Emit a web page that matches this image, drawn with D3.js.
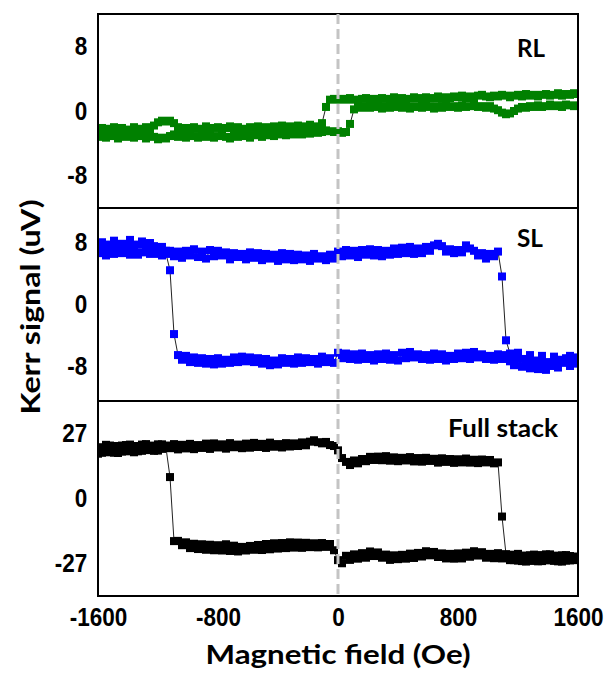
<!DOCTYPE html>
<html>
<head>
<meta charset="utf-8">
<script src="https://cdn.jsdelivr.net/npm/d3@7"></script>
<style>
  html, body { margin: 0; padding: 0; background: #fff; }
  svg { display: block; }
  .tick text { font-family: "Liberation Sans", Arial, sans-serif; font-weight: bold; font-size: 25px; fill: #000; }
  .title { font-family: Lato, "Open Sans", sans-serif; font-weight: bold; fill: #000; }
</style>
</head>
<body>
<svg id="chart" width="610" height="675"></svg>
<script>
// Field sweep: 121 steps from -1600 Oe to +1600 Oe
const fieldStart = -1600, fieldEnd = 1600, fieldSteps = 120;
const fieldOe = d3.range(fieldSteps + 1).map(i => fieldStart + i * (fieldEnd - fieldStart) / fieldSteps);

const xTicks = [-1600, -800, 0, 800, 1600];

// Panel names and y ticks
const panelNames = ["RL", "SL", "Full stack"];
const panelTicks = [[8, 0, -8], [8, 0, -8], [27, 0, -27]];
const panelRanges = [[-12, 12], [-12.4, 12.4], [-40.5, 40.5]];
const panelColors = ["#008000", "#0000ff", "#000000"];

// Kerr signal (uV), indexed by field step; "up" = sweep from -1600 to +1600, "down" = sweep back
const rlUp = [
  -3.2, -2.9, -3.3, -2.8, -3.1, -3.4, -2.9, -3.2, -3.0, -3.3,
  -2.9, -3.1, -3.4, -3.0, -3.2, -3.5, -3.3, -3.4, -3.1, -2.9,
  -3.2, -3.0, -3.3, -2.9, -3.1, -3.3, -2.8, -3.2, -3.0, -3.3,
  -3.1, -2.9, -3.2, -3.4, -3.0, -3.2, -2.9, -3.1, -3.3, -3.0,
  -2.9, -3.2, -3.0, -2.8, -3.1, -2.9, -2.7, -3.0, -2.8, -2.9,
  -2.7, -2.9, -2.6, -2.8, -2.5, -2.7, -2.6, -2.4, -2.5, -2.6,
  -2.5, -2.7, -2.6, -1.6, 0.2, 0.5, 0.4, 0.6, 0.4, 0.7,
  0.5, 0.3, 0.6, 0.4, 0.5, 0.7, 0.4, 0.6, 0.3, 0.5,
  0.6, 0.4, 0.7, 0.5, 0.3, 0.6, 0.4, 0.7, 0.5, 0.6,
  0.4, 0.7, 0.5, 0.6, 0.8, 0.5, 0.6, 0.4, 0.6, 0.3,
  0.1, -0.2, -0.4, -0.3, 0.0, 0.3, 0.5, 0.4, 0.6, 0.5,
  0.7, 0.5, 0.6, 0.8, 0.6, 0.7, 0.5, 0.8, 0.7, 0.6,
  0.7
];
const rlDown = [
  -2.4, -2.1, -2.5, -2.2, -2.0, -2.4, -2.1, -2.3, -2.5, -2.0,
  -2.2, -2.4, -2.0, -2.3, -1.8, -1.4, -1.2, -1.3, -1.2, -1.5,
  -2.0, -2.3, -2.1, -2.4, -2.0, -2.2, -2.3, -1.9, -2.4, -2.1,
  -2.0, -2.3, -2.1, -1.9, -2.3, -2.0, -2.2, -2.4, -2.0, -2.1,
  -1.9, -2.2, -2.0, -2.3, -1.9, -2.1, -1.8, -2.2, -1.9, -2.0,
  -1.8, -2.0, -1.9, -1.7, -1.9, -2.0, -1.5, 0.5, 1.4, 1.5,
  1.4, 1.5, 1.4, 1.6, 1.4, 1.3, 1.5, 1.6, 1.3, 1.5,
  1.3, 1.6, 1.5, 1.4, 1.7, 1.4, 1.6, 1.4, 1.5, 1.7,
  1.6, 1.4, 1.7, 1.5, 1.6, 1.8, 1.5, 1.7, 1.6, 1.8,
  1.7, 1.9, 1.6, 1.8, 1.7, 1.9, 2.0, 1.8, 1.7, 1.9,
  1.8, 2.0, 1.9, 1.7, 1.9, 2.0, 1.8, 2.1, 1.9, 2.0,
  1.8, 2.0, 2.1, 1.9, 2.0, 2.2, 1.9, 2.1, 2.0, 2.2,
  2.1
];
const slUp = [
  7.4, 8.0, 7.2, 7.7, 8.2, 7.3, 7.8, 7.5, 8.3, 7.4,
  7.7, 8.1, 7.2, 7.9, 7.5, 7.0, 7.4, 6.9, 6.9, 6.2,
  6.8, 6.0, 6.9, 6.3, 7.1, 6.1, 6.8, 5.9, 7.0, 6.2,
  6.9, 6.3, 6.7, 5.8, 6.6, 6.1, 6.5, 5.8, 6.7, 6.0,
  6.6, 5.7, 6.5, 5.9, 6.4, 5.6, 6.6, 5.8, 6.5, 5.7,
  6.4, 5.8, 6.3, 5.6, 6.5, 5.9, 6.2, 5.7, 6.4, 5.9,
  6.8, 6.2, 7.0, 6.3, 6.9, 6.1, 7.0, 6.4, 7.1, 6.3,
  7.0, 6.2, 6.9, 6.4, 7.2, 6.5, 7.3, 6.6, 7.4, 6.5,
  7.2, 6.6, 7.4, 6.9, 7.6, 7.8, 7.5, 6.8, 7.1, 6.6,
  7.0, 6.7, 7.6, 7.2, 6.9, 6.3, 6.6, 5.9, 6.5, 6.2,
  6.8, 3.6, -4.6, -6.3, -7.2, -6.2, -7.0, -7.6, -6.5, -7.4,
  -7.8, -6.6, -7.5, -7.9, -6.7, -7.7, -7.1, -7.5, -6.6, -7.3,
  -6.8
];
const slDown = [
  6.6, 7.0, 6.3, 6.8, 6.5, 7.1, 6.6, 6.9, 6.4, 6.8,
  6.4, 6.7, 7.0, 6.5, 6.8, 6.5, 6.3, 6.5, 4.4, -3.8,
  -6.5, -7.1, -6.6, -7.4, -6.8, -7.5, -6.9, -7.6, -7.0, -7.7,
  -6.9, -7.6, -7.1, -7.5, -6.8, -7.4, -6.7, -7.3, -6.8, -7.4,
  -6.9, -7.6, -7.0, -7.8, -7.2, -7.7, -6.9, -7.5, -7.0, -7.6,
  -6.8, -7.5, -6.9, -7.4, -7.0, -7.6, -6.7, -7.4, -6.9, -7.5,
  -6.2, -6.9, -6.3, -7.0, -6.4, -7.1, -6.3, -7.0, -6.5, -7.2,
  -6.4, -7.0, -6.3, -7.1, -6.5, -7.2, -6.2, -6.9, -6.1, -6.8,
  -6.4, -7.0, -6.5, -7.1, -6.3, -7.0, -6.4, -7.2, -6.6, -7.0,
  -6.3, -6.9, -6.2, -7.0, -6.1, -6.8, -6.4, -7.0, -6.6, -7.1,
  -6.4, -7.0, -6.5, -7.3, -7.8, -6.9, -8.0, -7.0, -8.2, -7.2,
  -8.3, -7.1, -8.4, -7.4, -7.0, -8.1, -7.3, -6.9, -7.9, -7.2,
  -7.6
];
const fullUp = [
  18.6, 21.3, 19.2, 22.0, 19.0, 21.6, 19.5, 22.2, 20.0, 21.8,
  19.6, 22.4, 20.3, 21.9, 19.8, 22.5, 20.6, 22.0, 20.9, 22.6,
  20.4, 22.3, 20.8, 22.7, 20.5, 22.2, 21.0, 22.8, 20.6, 22.9,
  21.2, 22.5, 20.7, 23.0, 21.3, 22.4, 20.9, 22.8, 21.1, 23.1,
  21.4, 22.7, 21.0, 23.2, 21.5, 22.6, 21.2, 23.0, 21.6, 22.9,
  21.8, 23.3, 22.1, 23.6, 24.2, 23.4, 22.9, 23.5, 22.2, 21.8,
  20.0, 16.8, 15.2, 13.9, 15.8, 14.6, 16.4, 15.5, 17.3, 16.0,
  17.4, 15.9, 17.6, 15.7, 17.1, 15.5, 16.9, 15.8, 17.2, 15.4,
  16.8, 15.3, 16.9, 15.6, 16.5, 14.9, 16.7, 15.2, 16.4, 14.8,
  16.3, 15.0, 16.6, 14.9, 16.1, 14.7, 16.2, 15.0, 16.0, 14.6,
  15.0, -7.5, -23.2, -23.4, -25.6, -23.0, -26.0, -23.7, -25.8, -23.3,
  -26.1, -24.0, -25.5, -23.2, -25.9, -23.8, -26.2, -23.5, -25.7, -24.1,
  -25.4
];
const fullDown = [
  21.0, 19.0, 22.3, 19.4, 21.8, 18.9, 22.0, 19.6, 22.4, 19.2,
  21.7, 19.8, 22.6, 20.1, 21.9, 19.9, 22.5, 21.0, 8.9, -17.7,
  -17.6, -19.4, -18.2, -20.6, -18.8, -21.0, -19.0, -21.3, -19.2, -21.5,
  -19.4, -21.6, -19.0, -21.8, -19.6, -22.0, -20.1, -21.6, -19.7, -21.3,
  -19.3, -21.4, -18.9, -21.1, -18.6, -20.8, -18.5, -20.6, -18.2, -20.4,
  -18.3, -20.5, -18.4, -20.2, -18.6, -20.3, -18.5, -20.1, -18.9, -21.5,
  -25.6, -26.9, -23.8, -25.5, -23.2, -25.0, -22.7, -24.6, -22.0, -23.9,
  -22.4, -24.6, -23.3, -25.5, -23.6, -25.2, -23.4, -25.0, -22.9, -24.7,
  -22.6, -24.1, -21.9, -23.6, -22.2, -24.3, -22.8, -24.9, -23.0, -25.0,
  -22.8, -24.9, -22.5, -24.2, -21.9, -23.7, -22.3, -24.6, -23.0, -24.8,
  -22.7, -24.9, -23.2, -25.6, -23.4, -25.8, -23.9, -26.2, -23.6, -25.9,
  -23.5, -26.0, -23.2, -25.7, -23.8, -26.1, -23.6, -25.8, -23.9, -25.6,
  -24.3
];

const panelSeries = [[rlUp, rlDown], [slUp, slDown], [fullUp, fullDown]];

// Layout
const left = 98, right = 578;
const panelTops = [14, 208, 401];
const panelBottoms = [208, 401, 596];
const markerSize = 8;
const tickSquash = 0.9;
const plainNumber = d => String(d);

const svg = d3.select("#chart");
const x = d3.scaleLinear().domain([fieldStart, fieldEnd]).range([left, right]);

panelNames.forEach((name, p) => {
  const y = d3.scaleLinear().domain(panelRanges[p]).range([panelBottoms[p], panelTops[p]]);
  const g = svg.append("g");

  // Y axis tick labels
  const yAxis = d3.axisLeft(y).tickValues(panelTicks[p]).tickSize(0).tickPadding(12).tickFormat(plainNumber);
  g.append("g").attr("transform", `translate(${left},0)`).call(yAxis)
    .call(s => s.select(".domain").remove())
    .call(s => s.selectAll(".tick text").attr("transform", `scale(${tickSquash},1)`));

  const clipId = "clip" + p;
  svg.append("clipPath").attr("id", clipId).append("rect")
    .attr("x", left).attr("y", panelTops[p])
    .attr("width", right - left).attr("height", panelBottoms[p] - panelTops[p]);

  const plot = g.append("g").attr("clip-path", `url(#${clipId})`);
  const line = d3.line().x((d, i) => x(fieldOe[i])).y(d => y(d));

  panelSeries[p].forEach(series => {
    plot.append("path").datum(series)
      .attr("d", line)
      .attr("fill", "none")
      .attr("stroke", "#222")
      .attr("stroke-width", 1);
  });
  panelSeries[p].forEach(series => {
    plot.append("g").selectAll("rect").data(series).join("rect")
      .attr("x", (d, i) => x(fieldOe[i]) - markerSize / 2)
      .attr("y", d => y(d) - markerSize / 2)
      .attr("width", markerSize)
      .attr("height", markerSize)
      .attr("fill", panelColors[p]);
  });

  // Panel frame
  g.append("rect")
    .attr("x", left).attr("y", panelTops[p])
    .attr("width", right - left).attr("height", panelBottoms[p] - panelTops[p])
    .attr("fill", "none").attr("stroke", "#000").attr("stroke-width", 2);
});

// Panel labels
const labelRight = [545, 543, 558];
const labelBase = [57, 247, 437];
const labelWidth = [28, 26, 110];
panelNames.forEach((name, p) => {
  svg.append("text").attr("class", "title")
    .attr("x", labelRight[p] - labelWidth[p]).attr("y", labelBase[p])
    .attr("font-size", 24)
    .attr("textLength", labelWidth[p]).attr("lengthAdjust", "spacingAndGlyphs")
    .text(name);
});

// Zero-field guide
svg.append("line")
  .attr("x1", x(0)).attr("x2", x(0))
  .attr("y1", panelTops[0]).attr("y2", panelBottoms[2])
  .attr("stroke", "#c4c4c4").attr("stroke-width", 3)
  .attr("stroke-dasharray", "10,5");

// X axis tick labels
const xAxis = d3.axisBottom(x).tickValues(xTicks).tickSize(0).tickPadding(12).tickFormat(plainNumber);
svg.append("g").attr("transform", `translate(0,${panelBottoms[2]})`).call(xAxis)
  .call(s => s.select(".domain").remove())
  .call(s => s.selectAll(".tick text").attr("transform", `scale(${tickSquash},1)`));

// Axis titles
svg.append("text").attr("class", "title")
  .attr("x", 338).attr("y", 664)
  .attr("text-anchor", "middle").attr("font-size", 27)
  .attr("textLength", 265).attr("lengthAdjust", "spacingAndGlyphs")
  .text("Magnetic field (Oe)");

svg.append("text").attr("class", "title")
  .attr("transform", "translate(40,307) rotate(-90)")
  .attr("text-anchor", "middle").attr("font-size", 27)
  .attr("textLength", 215).attr("lengthAdjust", "spacingAndGlyphs")
  .text("Kerr signal (uV)");
</script>
</body>
</html>
